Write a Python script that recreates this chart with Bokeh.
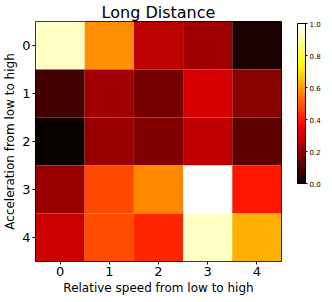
import numpy as np
from bokeh.plotting import figure
from bokeh.models import ColorBar, LinearColorMapper, FixedTicker, ColumnDataSource, PrintfTickFormatter
from bokeh.embed import file_html
from bokeh.resources import INLINE

# Data
x_ticks = [0, 1, 2, 3, 4]
y_ticks = [0, 1, 2, 3, 4]
row0 = [0.94, 0.575, 0.268, 0.223, 0.029]
row1 = [0.089, 0.223, 0.163, 0.305, 0.193]
row2 = [0.0, 0.216, 0.178, 0.276, 0.126]
row3 = [0.216, 0.476, 0.567, 1.0, 0.395]
row4 = [0.29, 0.48, 0.418, 0.94, 0.627]
rows = [row0, row1, row2, row3, row4]
cbar_ticks = [0.0, 0.2, 0.4, 0.6, 0.8, 1.0]

# matplotlib-like "hot" palette
def hot(t):
    r = min(1.0, 0.0416 + (1 - 0.0416) * t / 0.365079)
    g = min(1.0, max(0.0, (t - 0.365079) / (0.746032 - 0.365079)))
    b = min(1.0, max(0.0, (t - 0.746032) / (1 - 0.746032)))
    return "#%02x%02x%02x" % (int(round(r * 255)), int(round(g * 255)), int(round(b * 255)))

palette = [hot(i / 255) for i in range(256)]

xs, ys, vs = [], [], []
for i, r in enumerate(rows):
    for j, v in enumerate(r):
        xs.append(x_ticks[j])
        ys.append(y_ticks[i])
        vs.append(v)
src = ColumnDataSource(dict(x=xs, y=ys, v=vs))

mapper = LinearColorMapper(palette=palette, low=0.0, high=1.0)

FH = 240
CBH = 160

p = figure(x_range=(-0.5, 4.5), y_range=(4.5, -0.5),
           output_backend="svg", toolbar_location=None,
           title="Long Distance", frame_width=246, frame_height=FH,
           min_border_left=0, min_border_right=0, min_border_top=0, min_border_bottom=0)

p.rect(x="x", y="y", width=1, height=1, source=src,
       fill_color={"field": "v", "transform": mapper}, line_color=None)

p.title.align = "center"
p.title.text_font = "DejaVu Sans"
p.title.text_font_size = "16px"
p.title.text_font_style = "normal"
p.title.text_color = "black"
p.title.offset = 0
p.title.standoff = 0

p.grid.visible = False
p.outline_line_color = "black"
p.outline_line_width = 1

for ax in (p.xaxis, p.yaxis):
    ax.ticker = FixedTicker(ticks=x_ticks)
    ax.major_label_text_font = "DejaVu Sans"
    ax.major_label_text_font_size = "13px"
    ax.major_label_text_color = "black"
    ax.axis_label_text_font = "DejaVu Sans"
    ax.axis_label_text_font_size = "12px"
    ax.axis_label_text_font_style = "normal"
    ax.axis_label_text_color = "black"
    ax.minor_tick_line_color = None
    ax.axis_line_color = None
    ax.major_tick_line_color = "black"
    ax.major_tick_out = 3
    ax.major_tick_in = 0
    ax.major_label_standoff = 2
    ax.axis_label_standoff = 2

p.xaxis.axis_label = "Relative speed from low to high"
p.yaxis.axis_label = "Acceleration from low to high"
p.yaxis.major_label_orientation = "horizontal"

cb = ColorBar(color_mapper=mapper, ticker=FixedTicker(ticks=cbar_ticks),
              formatter=PrintfTickFormatter(format="%.1f"),
              width=8, height=CBH, location=(16, FH - CBH - 2), margin=0, padding=0,
              major_label_text_font="DejaVu Sans", major_label_text_font_size="7px",
              major_label_text_color="black",
              bar_line_color="black", bar_line_width=1,
              major_tick_line_color="black", major_tick_out=2, major_tick_in=0,
              label_standoff=2, background_fill_alpha=0,
              border_line_color=None)
p.add_layout(cb, "right")

open("out.html", "w").write(file_html(p, INLINE))
